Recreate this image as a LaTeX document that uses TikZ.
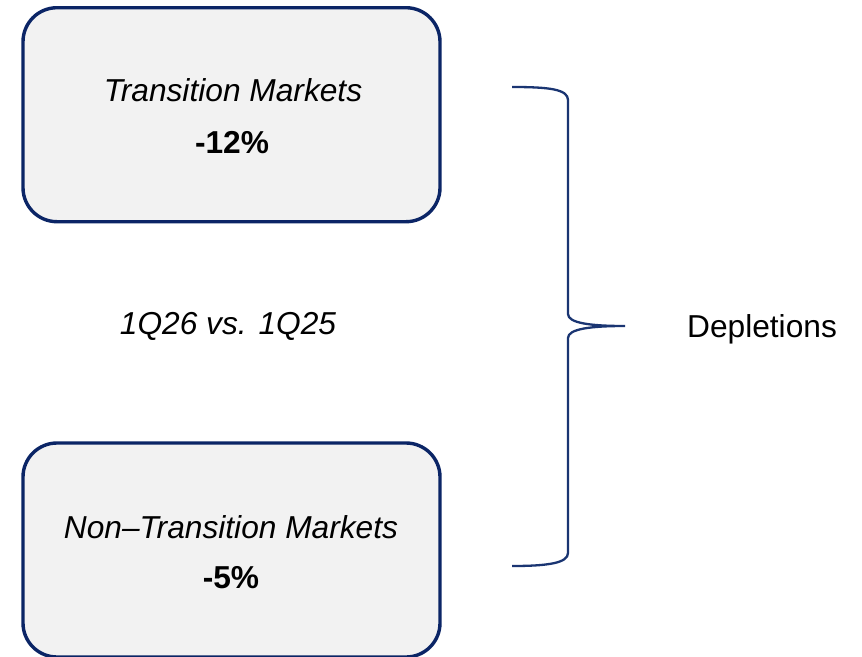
\documentclass[tikz,border=0pt]{standalone}
\usepackage{fontspec}
\setmainfont{Liberation Sans}
\definecolor{navy}{HTML}{0B2566}
\definecolor{boxfill}{HTML}{F2F2F2}
\definecolor{bracecol}{HTML}{1A3572}
\tikzset{
  mbox/.style={draw=navy, fill=boxfill, line width=3.4pt, rounded corners=34pt,
    minimum width=417pt, minimum height=214pt, inner sep=0pt},
  lbl/.style={inner sep=0pt, font=\fontsize{31.7}{38}\selectfont, text=black},
  bracestyle/.style={draw=bracecol, line width=2.3pt}
}
\begin{document}
\begin{tikzpicture}[x=1pt,y=-1pt]
\useasboundingbox (0,0) rectangle (862,656);
\fill[white] (0,0) rectangle (862,656);
% boxes
\node[mbox] (tm) at (231.5,114.7) {};
\node[mbox] (ntm) at (231.5,550) {};
% texts
\node[lbl, anchor=base] (tmt) at (233,101.7) {\itshape Transition Markets};
\node[lbl, anchor=base] (tmv) at (232,153) {\bfseries -12\%};
\node[lbl, anchor=base] (ntmt) at (231,538) {\itshape Non–Transition Markets};
\node[lbl, anchor=base] (ntmv) at (231,588) {\bfseries -5\%};
\node[lbl, anchor=base] (cmp) at (228,334) {\itshape 1Q26 vs. 1Q25};
\node[lbl, anchor=base] (dep) at (762,337) {Depletions};
% brace
\coordinate (btop) at (512,87);
\coordinate (bbot) at (512,566);
\coordinate (btip) at (625,326);
\path[bracestyle] (btop) .. controls (548,87) and (568,89) .. (568,100)
  -- (568,314) .. controls (568,323) and (590,326) .. (btip)
  .. controls (590,326) and (568,329) .. (568,338)
  -- (568,553) .. controls (568,563) and (548,566) .. (bbot);
\end{tikzpicture}
\end{document}
